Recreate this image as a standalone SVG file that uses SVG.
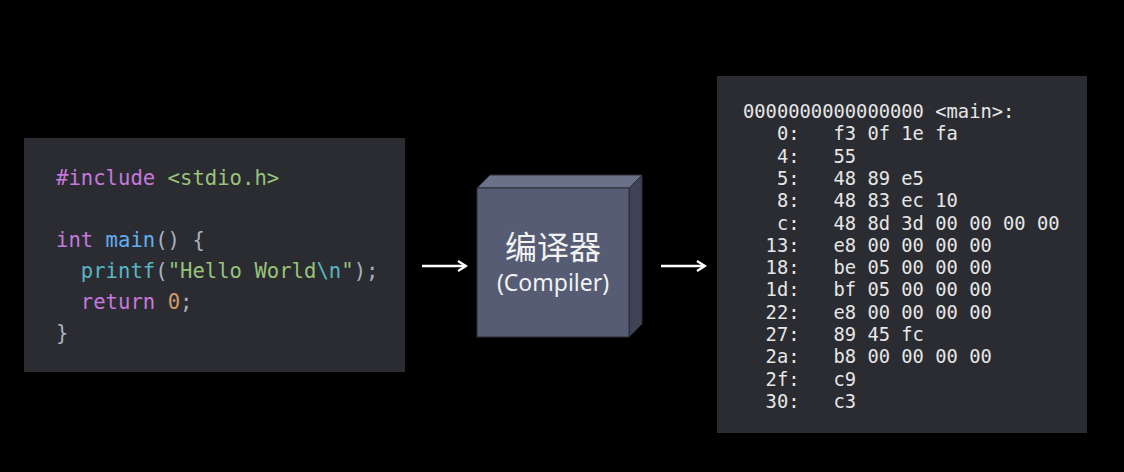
<svg xmlns="http://www.w3.org/2000/svg" width="1124" height="472" viewBox="0 0 1124 472">
<style>
.panel{fill:#2a2c32}
.code{font-family:"DejaVu Sans Mono","Liberation Mono",monospace;font-size:20.6px;fill:#abb2bf}
.asm{font-family:"DejaVu Sans Mono","Liberation Mono",monospace;font-size:18.8px;fill:#e6e6e6}
.kw{fill:#c678dd}.str{fill:#98c379}.fn{fill:#61afef}.bi{fill:#56b6c2}.num{fill:#d19a66}
.lbl{font-family:"Noto Sans","Noto Sans CJK SC",sans-serif;fill:#f2f2f2;text-anchor:middle}
.arrow{stroke:#ffffff;stroke-width:2.5;fill:none}
</style>
<defs>
<marker id="ah" viewBox="0 0 12 12" refX="10" refY="6" markerWidth="12" markerHeight="12" markerUnits="userSpaceOnUse" orient="auto">
<path d="M2,1 L10,6 L2,11" fill="none" stroke="#ffffff" stroke-width="2.2"/>
</marker>
</defs>
<rect width="1124" height="472" fill="#000000"/>
<g id="source">
<rect class="panel" x="24" y="138" width="381" height="234"/>
<text class="code" xml:space="preserve" x="56" y="185"><tspan class="kw">#include</tspan> <tspan class="str">&lt;stdio.h&gt;</tspan></text>
<text class="code" xml:space="preserve" x="56" y="247"><tspan class="kw">int</tspan> <tspan class="fn">main</tspan>() {</text>
<text class="code" xml:space="preserve" x="56" y="278">  <tspan class="bi">printf</tspan>(<tspan class="str">"Hello World</tspan><tspan class="bi">\n</tspan><tspan class="str">"</tspan>);</text>
<text class="code" xml:space="preserve" x="56" y="309">  <tspan class="kw">return</tspan> <tspan class="num">0</tspan>;</text>
<text class="code" xml:space="preserve" x="56" y="340">}</text>
</g>
<g id="compiler">
<polygon points="477,188 490,175 642,175 629,188" fill="#6b7189" stroke="#2a2d38" stroke-width="1"/>
<polygon points="629,188 642,175 642,324 629,337" fill="#3e4356" stroke="#2a2d38" stroke-width="1"/>
<rect x="477" y="188" width="152" height="149" fill="#555c74" stroke="#2a2d38" stroke-width="1"/>
<text class="lbl" x="553" y="259" font-size="32">编译器</text>
<text class="lbl" x="553" y="291" font-size="23">(Compiler)</text>
</g>
<g id="machine-code">
<rect class="panel" x="717" y="76" width="370" height="357"/>
<text class="asm" xml:space="preserve" x="743" y="118">0000000000000000 &lt;main&gt;:</text>
<text class="asm" xml:space="preserve" x="743" y="140.3">   0:   f3 0f 1e fa</text>
<text class="asm" xml:space="preserve" x="743" y="162.6">   4:   55</text>
<text class="asm" xml:space="preserve" x="743" y="184.9">   5:   48 89 e5</text>
<text class="asm" xml:space="preserve" x="743" y="207.2">   8:   48 83 ec 10</text>
<text class="asm" xml:space="preserve" x="743" y="229.5">   c:   48 8d 3d 00 00 00 00</text>
<text class="asm" xml:space="preserve" x="743" y="251.8">  13:   e8 00 00 00 00</text>
<text class="asm" xml:space="preserve" x="743" y="274.1">  18:   be 05 00 00 00</text>
<text class="asm" xml:space="preserve" x="743" y="296.4">  1d:   bf 05 00 00 00</text>
<text class="asm" xml:space="preserve" x="743" y="318.7">  22:   e8 00 00 00 00</text>
<text class="asm" xml:space="preserve" x="743" y="341">  27:   89 45 fc</text>
<text class="asm" xml:space="preserve" x="743" y="363.3">  2a:   b8 00 00 00 00</text>
<text class="asm" xml:space="preserve" x="743" y="385.6">  2f:   c9</text>
<text class="asm" xml:space="preserve" x="743" y="407.9">  30:   c3</text>
</g>
<g id="connectors">
<line class="arrow" x1="422" y1="266" x2="466" y2="266" marker-end="url(#ah)"/>
<line class="arrow" x1="661" y1="266" x2="705" y2="266" marker-end="url(#ah)"/>
</g>
</svg>
